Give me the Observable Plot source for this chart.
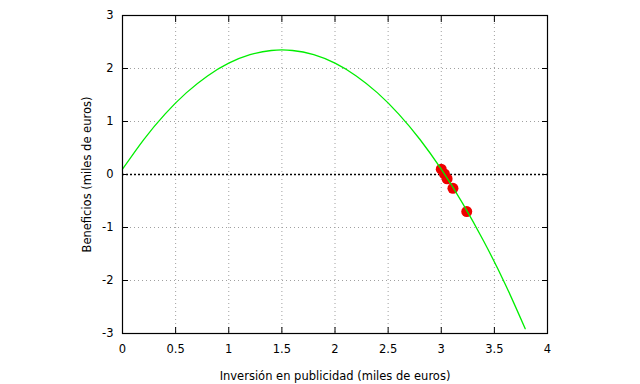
<!DOCTYPE html>
<html>
<head>
<meta charset="utf-8">
<script src="https://cdn.jsdelivr.net/npm/d3@7"></script>
<script src="https://cdn.jsdelivr.net/npm/@observablehq/plot@0.6"></script>
<style>
  html, body { margin: 0; padding: 0; background: #fff; }
  svg { font-family: "DejaVu Sans", sans-serif; }
</style>
</head>
<body>
<div id="chart"></div>
<script>
// Curve
const curveX = [0, 0.2, 0.4, 0.6, 0.8, 1.0, 1.2, 1.4, 1.6, 1.8, 2.0, 2.2, 2.4, 2.6, 2.8, 3.0, 3.2, 3.4, 3.6, 3.79];
const curveY = [0.1, 0.66, 1.14, 1.54, 1.86, 2.1, 2.26, 2.34, 2.34, 2.26, 2.1, 1.86, 1.54, 1.14, 0.66, 0.1, -0.54, -1.26, -2.06, -2.91];
// Red points
const ptX = [3.0, 3.03, 3.055, 3.11, 3.24];
const ptY = [0.1, 0.01, -0.08, -0.26, -0.70];
// Ticks
const xTicks = [0, 0.5, 1, 1.5, 2, 2.5, 3, 3.5, 4];
const yTicks = [-3, -2, -1, 0, 1, 2, 3];
const xLabel = "Inversión en publicidad (miles de euros)";
const yLabel = "Beneficios (miles de euros)";

const curve = curveX.map((x, i) => ({x, y: curveY[i]}));
const pts = ptX.map((x, i) => ({x, y: ptY[i]}));
const fmt = d => String(d);

const chart = Plot.plot({
  width: 640,
  height: 384,
  marginLeft: 122,
  marginRight: 93,
  marginTop: 15,
  marginBottom: 51,
  style: {fontSize: "11.5px", fontFamily: "DejaVu Sans, sans-serif", color: "#000", background: "#fff"},
  x: {domain: [0, 4]},
  y: {domain: [-3, 3]},
  marks: [
    Plot.gridX(xTicks, {stroke: "#a0a0a0", strokeOpacity: 1, strokeDasharray: "1,3"}),
    Plot.gridY(yTicks, {stroke: "#a0a0a0", strokeOpacity: 1, strokeDasharray: "1,3"}),
    Plot.ruleY([0], {stroke: "#000", strokeWidth: 1.5, strokeDasharray: "2,2"}),
    Plot.dot(pts, {x: "x", y: "y", r: 5.5, fill: "#f00000", stroke: "none"}),
    Plot.line(curve, {x: "x", y: "y", stroke: "#00ee00", strokeWidth: 1.3, curve: "natural"}),
    Plot.frame({stroke: "#000", strokeWidth: 1.2}),
    Plot.axisX(xTicks, {anchor: "bottom", tickSize: 6, dy: -6, text: null, label: null}),
    Plot.axisX(xTicks, {anchor: "top", tickSize: 6, dy: 6, text: null, label: null}),
    Plot.axisY(yTicks, {anchor: "left", tickSize: 6, dx: 6, text: null, label: null}),
    Plot.axisY(yTicks, {anchor: "right", tickSize: 6, dx: -6, text: null, label: null}),
    Plot.axisX(xTicks, {anchor: "bottom", tickSize: 0, tickPadding: 11, tickFormat: fmt,
      label: xLabel, labelAnchor: "center", labelArrow: "none", labelOffset: 46}),
    Plot.axisY(yTicks, {anchor: "left", tickSize: 0, tickPadding: 9, tickFormat: fmt,
      label: yLabel, labelAnchor: "center", labelArrow: "none", labelOffset: 40})
  ]
});
document.getElementById("chart").appendChild(chart);
</script>
</body>
</html>
